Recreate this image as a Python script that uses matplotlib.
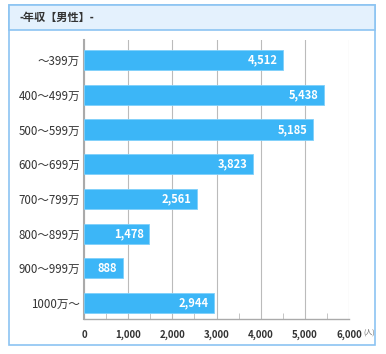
import matplotlib.pyplot as plt
from matplotlib.patches import Rectangle

plt.rcParams['font.family'] = ['Noto Sans CJK JP', 'DejaVu Sans']

categories = ['～399万', '400～499万', '500～599万', '600～699万',
              '700～799万', '800～899万', '900～999万', '1000万～']
values = [4512, 5438, 5185, 3823, 2561, 1478, 888, 2944]
xticks = [0, 1000, 2000, 3000, 4000, 5000, 6000]
xtick_labels = ['0', '1,000', '2,000', '3,000', '4,000', '5,000', '6,000']

W, H = 386, 354
fig = plt.figure(figsize=(W / 100, H / 100), dpi=100)

# outer panel and header band
fig.patches.append(Rectangle((9 / W, 1 - 345 / H), 366 / W, 340 / H,
                             transform=fig.transFigure, facecolor='white',
                             edgecolor='#8cc4f2', linewidth=1.2, zorder=-2))
fig.patches.append(Rectangle((9 / W, 1 - 30 / H), 366 / W, 25 / H,
                             transform=fig.transFigure, facecolor='#e4f1fd',
                             edgecolor='#8cc4f2', linewidth=1.2, zorder=-1))
fig.text(19 / W, 1 - 17.5 / H, '-年収【男性】-', fontsize=8, fontweight='bold',
         color='#333333', va='center', ha='left')

ax = fig.add_axes([84 / W, 1 - 319 / H, (349 - 84) / W, (319 - 40) / H])
ax.set_facecolor('none')
y = list(range(len(categories)))
ax.barh(y, values, height=0.58, color='#3cb6f7', edgecolor='#7fd0fb',
        linewidth=0.6, zorder=3)
for yi, v in zip(y, values):
    ax.text(v - 130, yi, f'{v:,}', ha='right', va='center', color='white',
            fontsize=8, fontweight='bold', zorder=4)

ax.set_xlim(0, 6000)
ax.set_ylim(7.46, -0.576)
ax.set_xticks(xticks)
ax.set_xticklabels(xtick_labels, fontsize=7, fontweight='bold', color='#333333')
ax.set_xticks(range(500, 6000, 1000), minor=True)
ax.tick_params(axis='x', which='major', length=0, pad=8)
ax.tick_params(axis='x', which='minor', direction='in', length=4, color='#bbbbbb')
ax.set_yticks(y)
ax.set_yticklabels(categories, fontsize=8.3, color='#333333')
ax.tick_params(axis='y', length=0, pad=3)
ax.grid(axis='x', color='#bbbbbb', linewidth=0.8, zorder=1)
for s in ['top', 'right']:
    ax.spines[s].set_visible(False)
ax.spines['left'].set_color('#aaaaaa')
ax.spines['left'].set_linewidth(1.5)
ax.spines['bottom'].set_color('#aaaaaa')
ax.spines['bottom'].set_linewidth(1.0)

fig.text(363.5 / W, 1 - 333 / H, '(人)', fontsize=5, color='#666666',
         va='center', ha='left')

fig.savefig('out.png', dpi=100)
